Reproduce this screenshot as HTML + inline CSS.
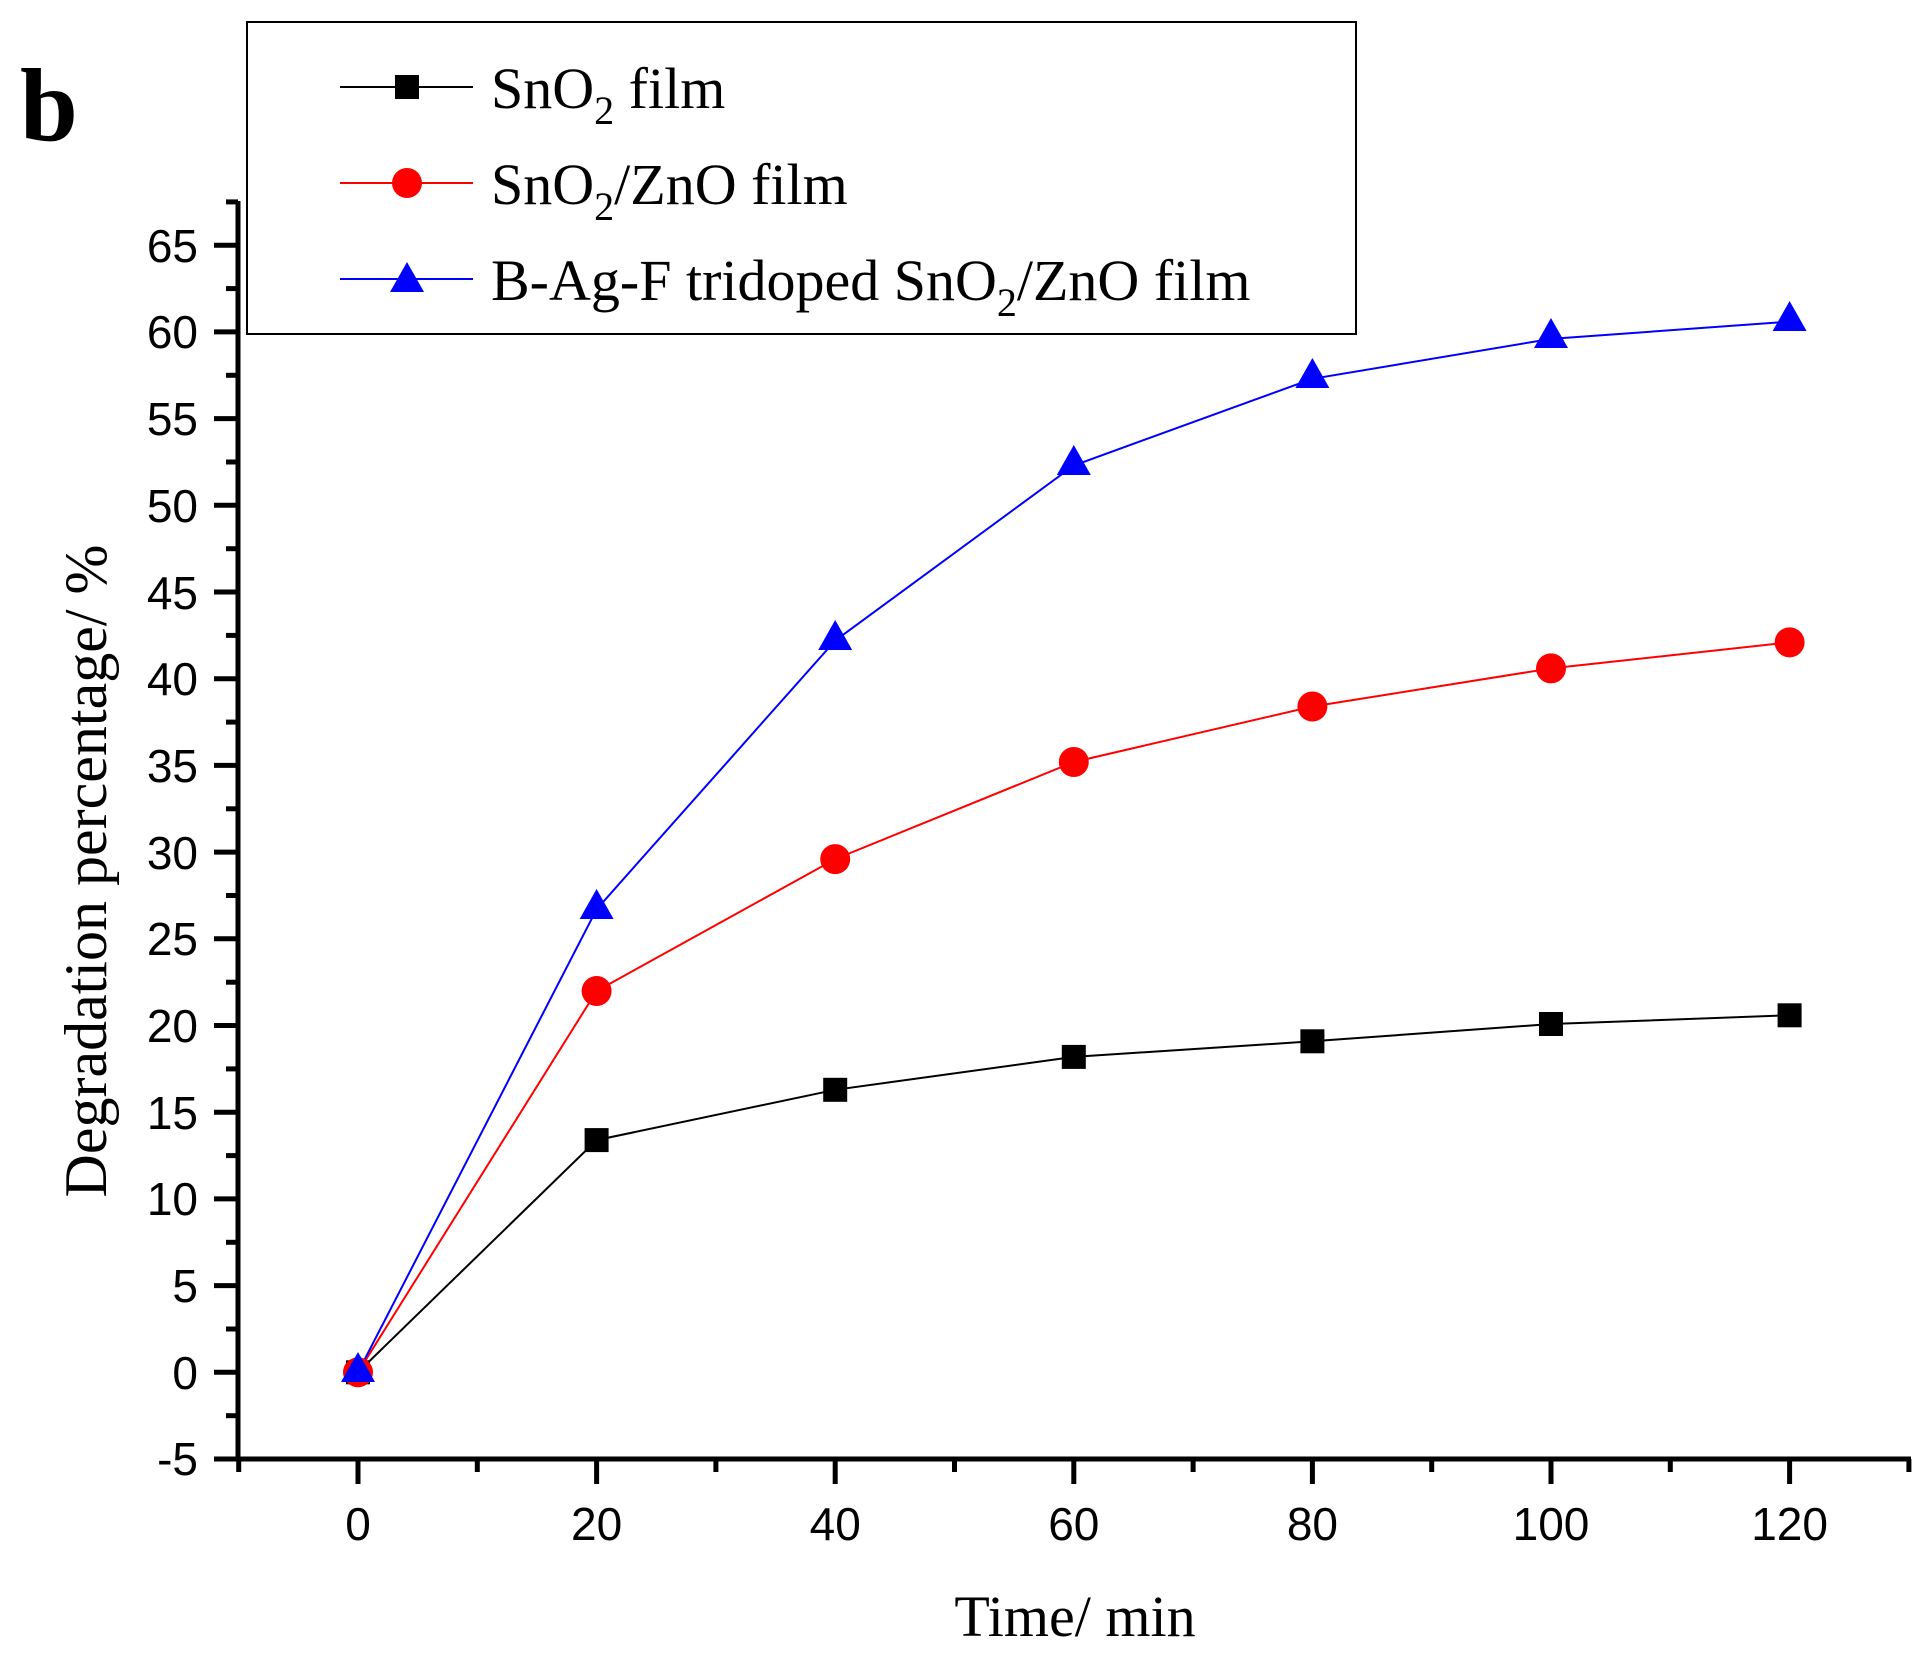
<!DOCTYPE html>
<html><head><style>body{margin:0;background:#fff}svg{display:block}</style></head><body>
<svg width="1932" height="1656" viewBox="0 0 1932 1656" xmlns="http://www.w3.org/2000/svg">
<rect width="1932" height="1656" fill="#fff"/>
<g stroke="#000" stroke-width="5" fill="none">
<line x1="238" y1="201" x2="238" y2="1461"/>
<line x1="236" y1="1459" x2="1911" y2="1459"/>
</g>
<g stroke="#000" stroke-width="5">
<line x1="214" y1="1459" x2="238" y2="1459"/><line x1="226" y1="1415.7" x2="238" y2="1415.7"/>
<line x1="214" y1="1372.3" x2="238" y2="1372.3"/><line x1="226" y1="1329" x2="238" y2="1329"/>
<line x1="214" y1="1285.6" x2="238" y2="1285.6"/><line x1="226" y1="1242.3" x2="238" y2="1242.3"/>
<line x1="214" y1="1198.9" x2="238" y2="1198.9"/><line x1="226" y1="1155.6" x2="238" y2="1155.6"/>
<line x1="214" y1="1112.2" x2="238" y2="1112.2"/><line x1="226" y1="1068.9" x2="238" y2="1068.9"/>
<line x1="214" y1="1025.5" x2="238" y2="1025.5"/><line x1="226" y1="982.2" x2="238" y2="982.2"/>
<line x1="214" y1="938.8" x2="238" y2="938.8"/><line x1="226" y1="895.5" x2="238" y2="895.5"/>
<line x1="214" y1="852.1" x2="238" y2="852.1"/><line x1="226" y1="808.8" x2="238" y2="808.8"/>
<line x1="214" y1="765.4" x2="238" y2="765.4"/><line x1="226" y1="722.1" x2="238" y2="722.1"/>
<line x1="214" y1="678.7" x2="238" y2="678.7"/><line x1="226" y1="635.4" x2="238" y2="635.4"/>
<line x1="214" y1="592" x2="238" y2="592"/><line x1="226" y1="548.7" x2="238" y2="548.7"/>
<line x1="214" y1="505.3" x2="238" y2="505.3"/><line x1="226" y1="462" x2="238" y2="462"/>
<line x1="214" y1="418.6" x2="238" y2="418.6"/><line x1="226" y1="375.3" x2="238" y2="375.3"/>
<line x1="214" y1="331.9" x2="238" y2="331.9"/><line x1="226" y1="288.6" x2="238" y2="288.6"/>
<line x1="214" y1="245.2" x2="238" y2="245.2"/><line x1="226" y1="201.9" x2="238" y2="201.9"/>
</g>
<g stroke="#000" stroke-width="5">
<line x1="238.7" y1="1459" x2="238.7" y2="1472"/><line x1="358" y1="1459" x2="358" y2="1484"/>
<line x1="477.3" y1="1459" x2="477.3" y2="1472"/><line x1="596.6" y1="1459" x2="596.6" y2="1484"/>
<line x1="715.9" y1="1459" x2="715.9" y2="1472"/><line x1="835.2" y1="1459" x2="835.2" y2="1484"/>
<line x1="954.5" y1="1459" x2="954.5" y2="1472"/><line x1="1073.8" y1="1459" x2="1073.8" y2="1484"/>
<line x1="1193.1" y1="1459" x2="1193.1" y2="1472"/><line x1="1312.4" y1="1459" x2="1312.4" y2="1484"/>
<line x1="1431.7" y1="1459" x2="1431.7" y2="1472"/><line x1="1551" y1="1459" x2="1551" y2="1484"/>
<line x1="1670.3" y1="1459" x2="1670.3" y2="1472"/><line x1="1789.6" y1="1459" x2="1789.6" y2="1484"/>
<line x1="1908.9" y1="1459" x2="1908.9" y2="1472"/>
</g>
<g font-family="Liberation Sans, sans-serif" font-size="46" text-anchor="end" fill="#000">
<text x="198" y="1475">-5</text><text x="198" y="1389">0</text><text x="198" y="1302">5</text>
<text x="198" y="1215">10</text><text x="198" y="1129">15</text><text x="198" y="1042">20</text>
<text x="198" y="955">25</text><text x="198" y="869">30</text><text x="198" y="782">35</text>
<text x="198" y="695">40</text><text x="198" y="609">45</text><text x="198" y="522">50</text>
<text x="198" y="435">55</text><text x="198" y="348">60</text><text x="198" y="262">65</text>
</g>
<g font-family="Liberation Sans, sans-serif" font-size="46" text-anchor="middle" fill="#000">
<text x="358" y="1540">0</text><text x="596.6" y="1540">20</text><text x="835.2" y="1540">40</text>
<text x="1073.8" y="1540">60</text><text x="1312.4" y="1540">80</text><text x="1551" y="1540">100</text><text x="1789.6" y="1540">120</text>
</g>
<text x="1075" y="1636" font-family="Liberation Serif, serif" font-size="58" text-anchor="middle">Time/ min</text>
<text transform="translate(106,871) rotate(-90)" font-family="Liberation Serif, serif" font-size="60" text-anchor="middle">Degradation percentage/ %</text>
<text x="20" y="140" font-family="Liberation Serif, serif" font-size="104" font-weight="bold">b</text>
<polyline fill="none" stroke="#000" stroke-width="2" points="358,1372.3 596.6,1140.1 835.2,1089.8 1073.8,1056.9 1312.4,1041.3 1551,1024 1789.6,1015.3"/>
<polyline fill="none" stroke="#f00" stroke-width="2" points="358,1372.3 596.6,991 835.2,859.1 1073.8,762 1312.4,706.5 1551,668.4 1789.6,642.4"/>
<polyline fill="none" stroke="#00f" stroke-width="2" points="358,1372.3 596.6,909.3 835.2,640.6 1073.8,465.5 1312.4,378.8 1551,338.9 1789.6,321.6"/>
<g fill="#000">
<rect x="346" y="1360.3" width="24" height="24"/><rect x="584.6" y="1128.1" width="24" height="24"/>
<rect x="823.2" y="1077.8" width="24" height="24"/><rect x="1061.8" y="1044.9" width="24" height="24"/>
<rect x="1300.4" y="1029.3" width="24" height="24"/><rect x="1539" y="1012" width="24" height="24"/>
<rect x="1777.6" y="1003.3" width="24" height="24"/>
</g>
<g fill="#f00">
<circle cx="358" cy="1372.3" r="15"/><circle cx="596.6" cy="991" r="15"/><circle cx="835.2" cy="859.1" r="15"/>
<circle cx="1073.8" cy="762" r="15"/><circle cx="1312.4" cy="706.5" r="15"/><circle cx="1551" cy="668.4" r="15"/><circle cx="1789.6" cy="642.4" r="15"/>
</g>
<g fill="#00f">
<polygon points="358,1352 341,1382 375,1382"/>
<polygon points="596.6,889 579.6,919 613.6,919"/>
<polygon points="835.2,620 818.2,650 852.2,650"/>
<polygon points="1073.8,445 1056.8,475 1090.8,475"/>
<polygon points="1312.4,358 1295.4,388 1329.4,388"/>
<polygon points="1551,318 1534,348 1568,348"/>
<polygon points="1789.6,301 1772.6,331 1806.6,331"/>
</g>
<rect x="247" y="22" width="1109" height="312" fill="#fff" stroke="#000" stroke-width="2"/>
<line x1="340" y1="87" x2="473" y2="87" stroke="#000" stroke-width="2"/>
<rect x="395" y="75" width="24" height="24" fill="#000"/>
<line x1="340" y1="183" x2="473" y2="183" stroke="#f00" stroke-width="2"/>
<circle cx="407" cy="183" r="15" fill="#f00"/>
<line x1="340" y1="279" x2="473" y2="279" stroke="#00f" stroke-width="2"/>
<polygon points="407,262 390,292 424,292" fill="#00f"/>
<g font-family="Liberation Serif, serif" font-size="58" fill="#000">
<text x="491" y="108">SnO<tspan font-size="40" dy="16">2</tspan><tspan dy="-16"> film</tspan></text>
<text x="491" y="204">SnO<tspan font-size="40" dy="16">2</tspan><tspan dy="-16">/ZnO film</tspan></text>
<text x="491" y="300">B-Ag-F tridoped SnO<tspan font-size="40" dy="16">2</tspan><tspan dy="-16">/ZnO film</tspan></text>
</g>
</svg>
</body></html>
